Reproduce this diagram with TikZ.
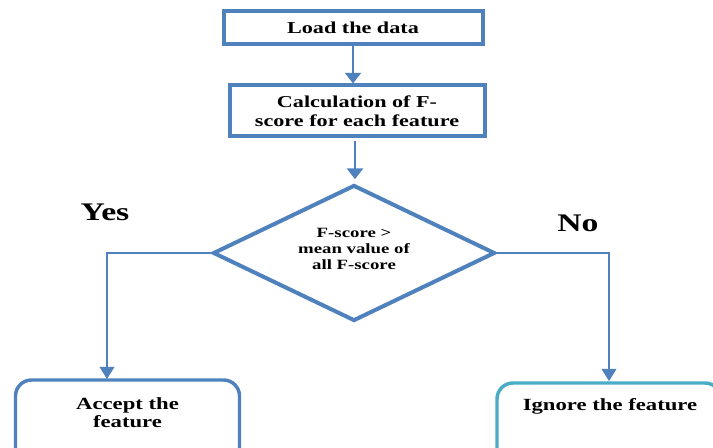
\documentclass[tikz,border=0pt]{standalone}
\usepackage{fontspec}
\setmainfont{Liberation Serif}[FakeStretch=1.33]
\usetikzlibrary{arrows.meta,shapes.geometric}
\definecolor{bblue}{RGB}{79,129,189}
\definecolor{tealb}{RGB}{75,172,198}
\tikzset{
  box/.style={draw=bblue,line width=3pt,rectangle,inner sep=0pt,font=\bfseries\fontsize{12.5}{14}\selectfont,align=center},
  rbox/.style={draw=bblue,line width=2.6pt,rounded corners=12pt,rectangle,inner sep=0pt},
  lbl/.style={font=\bfseries\fontsize{12.8}{13.5}\selectfont,align=center,inner sep=0pt},
  big/.style={font=\bfseries\fontsize{19}{21}\selectfont,inner sep=0pt},
  conn/.style={draw=bblue,line width=1.6pt,-{Triangle[width=12pt,length=8pt]}},
  link/.style={draw=bblue,line width=0.9pt,-{Triangle[width=11pt,length=9pt]}},
}
\begin{document}
\begin{tikzpicture}[x=0.75pt,y=-0.75pt]
\useasboundingbox (0,0) rectangle (713,448);
\node[box,minimum width=259*0.75pt,minimum height=33*0.75pt] (load) at (353,27.5) {Load the data};
\node[box,minimum width=255*0.75pt,minimum height=51*0.75pt] (calc) at (357,111) {Calculation of F-\\score for each feature};
\node[diamond,draw=bblue,line width=3pt,inner sep=0pt,minimum width=282*0.75pt,minimum height=136*0.75pt,aspect=2.07] (dia) at (354,253) {};
\node[lbl,font=\bfseries\fontsize{10.6}{12}\selectfont] (diat) at (354,249) {F-score >\\mean value of\\all F-score};
\node[rbox,minimum width=224*0.75pt,minimum height=90*0.75pt] (accept) at (127.5,425) {};
\node[lbl] (acceptt) at (127.5,412.5) {Accept the\\feature};
\node[rbox,draw=tealb,minimum width=224*0.75pt,minimum height=90*0.75pt] (ignore) at (609,428) {};
\node[lbl] (ignoret) at (610,406) {Ignore the feature};
\node[big] (yes) at (105,212) {Yes};
\node[big] (no) at (578,223) {No};
\draw[conn] (load.south) -- (load.south |- calc.north);
\draw[conn] ([xshift=-2*0.75pt,yshift=-2pt]calc.south) -- ++(0,-38*0.75pt);
\coordinate (ya) at (107,379);
\coordinate (na) at (609,381);
\draw[link] (dia.west) -| (ya);
\draw[link] (dia.east) -| (na);
\end{tikzpicture}
\end{document}
